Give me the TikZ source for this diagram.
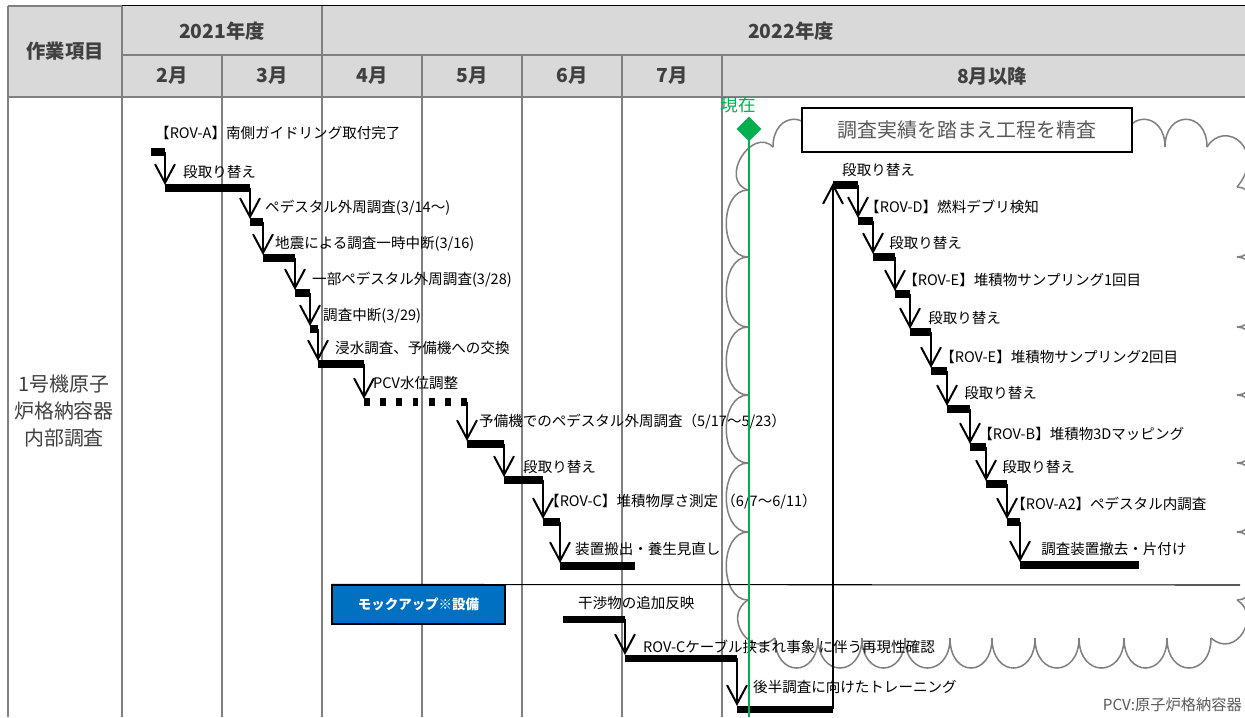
\documentclass[tikz,border=0pt]{standalone}
\usepackage{fontspec}
\setmainfont{Noto Sans CJK JP}
\usetikzlibrary{arrows.meta,shapes.geometric}
\definecolor{gridgray}{RGB}{128,128,128}
\definecolor{headfill}{RGB}{217,217,217}
\definecolor{headtext}{RGB}{64,64,64}
\definecolor{notegray}{RGB}{89,89,89}
\definecolor{nowgreen}{RGB}{0,176,80}
\definecolor{mockblue}{RGB}{0,112,192}
\tikzset{
  gridline/.style={gridgray, line width=2pt},
  cloudline/.style={gridgray, line width=1.3pt},
  stepbar/.style={line width=6pt},
  flow/.style={-{Straight Barb[length=16pt,width=17pt]}, line width=1.7pt},
  lbl/.style={anchor=west, inner sep=0pt, font=\fontsize{12.4}{14}\selectfont},
  headlbl/.style={headtext, font=\fontsize{16.5}{18}\selectfont\bfseries},
}
\begin{document}
\begin{tikzpicture}[x=0.03cm, y=-0.03cm]
\useasboundingbox (0,0) rectangle (1245,717);
% header
\fill[headfill] (8,6) rectangle (1245,97);
\draw[line width=1pt] (122,5.5) -- (1245,5.5);
\draw[gridline] (8,6) -- (122,6);
\draw[gridline] (122,55) -- (1245,55) (8,97) -- (1245,97);
\foreach \x in {8,122,322} \draw[gridline] (\x,6) -- (\x,717);
\foreach \x in {222,422,522,622,722} \draw[gridline] (\x,55) -- (\x,717);
\node[headlbl] (item) at (65,51) {作業項目};
\node[headlbl] (fy21) at (222,31) {2021年度};
\node[headlbl] (fy22) at (791,31) {2022年度};
\node[headlbl] (feb) at (172,76) {2月};
\node[headlbl] (mar) at (272,76) {3月};
\node[headlbl] (apr) at (372,76) {4月};
\node[headlbl] (may) at (472,76) {5月};
\node[headlbl] (jun) at (572,76) {6月};
\node[headlbl] (jul) at (672,76) {7月};
\node[headlbl] (aug) at (992,76) {8月以降};
\node[headtext, align=center, font=\fontsize{17}{23}\selectfont] (task) at (64,411) {1号機原子\\炉格納容器\\内部調査};
% cloud
\foreach \a/\b in {190/257,257/327,327/395,395/463,463/532,532/600}
  \draw[cloudline] (748,\a) .. controls (719,\a) and (719,\b) .. (748,\b);
\foreach \a/\b in {187/257,257/327,327/395,395/463,463/532,532/600}
  \draw[cloudline] (1237,\a) .. controls (1266,\a) and (1266,\b) .. (1237,\b);
\foreach \a/\b in {775/818,818/862,862/905,905/950,950/992,992/1035,1035/1079,1079/1124,1124/1167,1167/1211}
  \draw[cloudline] (\a,638) .. controls (\a,678) and (\b,678) .. (\b,638);
\foreach \a/\b in {773/815,1123/1165,1165/1207}
  \draw[cloudline] (\a,147) .. controls (\a,110) and (\b,110) .. (\b,147);
\draw[cloudline] (748,190) .. controls (718,180) and (752,126) .. (773,147);
\draw[cloudline] (1207,147) .. controls (1225,118) and (1268,150) .. (1237,187);
\draw[cloudline] (748,600) .. controls (722,616) and (750,660) .. (775,638);
\draw[cloudline] (1211,638) .. controls (1236,660) and (1262,615) .. (1237,600);
\node[draw, fill=white, line width=1.2pt, minimum width=9.9cm, minimum height=1.32cm, inner sep=0pt, text=notegray, font=\fontsize{17}{20}\selectfont] (review) at (967,130) {調査実績を踏まえ工程を精査};
% steps before the pause
\draw[stepbar] (151,152) -- (165,152);
\foreach \x/\ya/\yb/\xe in {165/152/188/250, 250/188/222/263, 263/222/258/295, 295/258/293/310, 310/293/329/318, 318/329/364/364}{
  \draw[flow] (\x,\ya) -- (\x,\yb-3);
  \draw[stepbar] (\x,\yb) -- (\xe,\yb);
}
\draw[flow] (364,364) -- (364,399);
\draw[stepbar, dash pattern=on 5.1pt off 8.7pt] (364,402) -- (467,402);
\foreach \x/\ya/\yb/\xe in {467/402/444/504, 504/444/480/543, 543/480/522/560, 560/522/566/635}{
  \draw[flow] (\x,\ya) -- (\x,\yb-3);
  \draw[stepbar] (\x,\yb) -- (\xe,\yb);
}
% mock-up
\node[draw, fill=mockblue, text=white, line width=1pt, minimum width=5.19cm, minimum height=1.17cm, inner sep=0pt, font=\fontsize{11.5}{13}\selectfont\bfseries] (mock) at (418.5,604.5) {モックアップ※設備};
\coordinate (sepend) at (1240,585);
\draw[line width=0.9pt] (mock.north west) -- (sepend);
\draw[stepbar] (563,619) -- (625,619);
\foreach \x/\ya/\yb/\xe in {625/619/658/737, 737/658/709/833}{
  \draw[flow] (\x,\ya) -- (\x,\yb-3);
  \draw[stepbar] (\x,\yb) -- (\xe,\yb);
}
% steps after August
\draw[flow] (833,709) -- (833,183);
\draw[stepbar] (833,185) -- (858,185);
\foreach \x/\ya/\yb/\xe in {858/185/221/873, 873/221/257/895, 895/257/294/910, 910/294/332/931, 931/332/371/947, 947/371/409/970, 970/409/447/986, 986/447/484/1007, 1007/484/522/1020, 1020/522/565/1139}{
  \draw[flow] (\x,\ya) -- (\x,\yb-3);
  \draw[stepbar] (\x,\yb) -- (\xe,\yb);
}
\node[lbl] (a1) at (155,133) {【ROV-A】南側ガイドリング取付完了};
\node[lbl] (a2) at (183,172) {段取り替え};
\node[lbl] (a3) at (265,208) {ペデスタル外周調査(3/14～)};
\node[lbl] (a4) at (275,244) {地震による調査一時中断(3/16)};
\node[lbl] (a5) at (312,280) {一部ペデスタル外周調査(3/28)};
\node[lbl] (a6) at (323,316) {調査中断(3/29)};
\node[lbl] (a7) at (335,348) {浸水調査、予備機への交換};
\node[lbl] (a8) at (373,383) {PCV水位調整};
\node[lbl] (a9) at (479,422) {予備機でのペデスタル外周調査（5/17～5/23）};
\node[lbl] (a10) at (523,467) {段取り替え};
\node[lbl] (a11) at (545,502) {【ROV-C】堆積物厚さ測定 （6/7～6/11）};
\node[lbl] (a12) at (575,549) {装置搬出・養生見直し};
\node[lbl] (b1) at (842,170) {段取り替え};
\node[lbl] (b2) at (865,207) {【ROV-D】燃料デブリ検知};
\node[lbl] (b3) at (889,243) {段取り替え};
\node[lbl] (b4) at (903,280) {【ROV-E】堆積物サンプリング1回目};
\node[lbl] (b5) at (928,318) {段取り替え};
\node[lbl] (b6) at (940,357) {【ROV-E】堆積物サンプリング2回目};
\node[lbl] (b7) at (964,393) {段取り替え};
\node[lbl] (b8) at (978,434) {【ROV-B】堆積物3Dマッピング};
\node[lbl] (b9) at (1002,467) {段取り替え};
\node[lbl] (b10) at (1011,504) {【ROV-A2】ペデスタル内調査};
\node[lbl] (b11) at (1041,549) {調査装置撤去・片付け};
\node[lbl] (c1) at (578,603) {干渉物の追加反映};
\node[lbl] (c2) at (643,647) {ROV-Cケーブル挟まれ事象 に伴う再現性確認};
\node[lbl] (c3) at (753,687) {後半調査に向けたトレーニング};
\node[lbl, anchor=east, text=notegray, font=\fontsize{13}{15}\selectfont] (pcv) at (1242,705) {PCV:原子炉格納容器};
% today
\node[diamond, fill=nowgreen, inner sep=0pt, minimum size=0.75cm] (now) at (749,129) {};
\coordinate (nowend) at (749,717);
\draw[nowgreen, line width=2.2pt] (now.center) -- (nowend);
\node[nowgreen, inner sep=0pt, font=\fontsize{15}{17}\selectfont] (nowlbl) at (738,105) {現在};
\end{tikzpicture}
\end{document}
